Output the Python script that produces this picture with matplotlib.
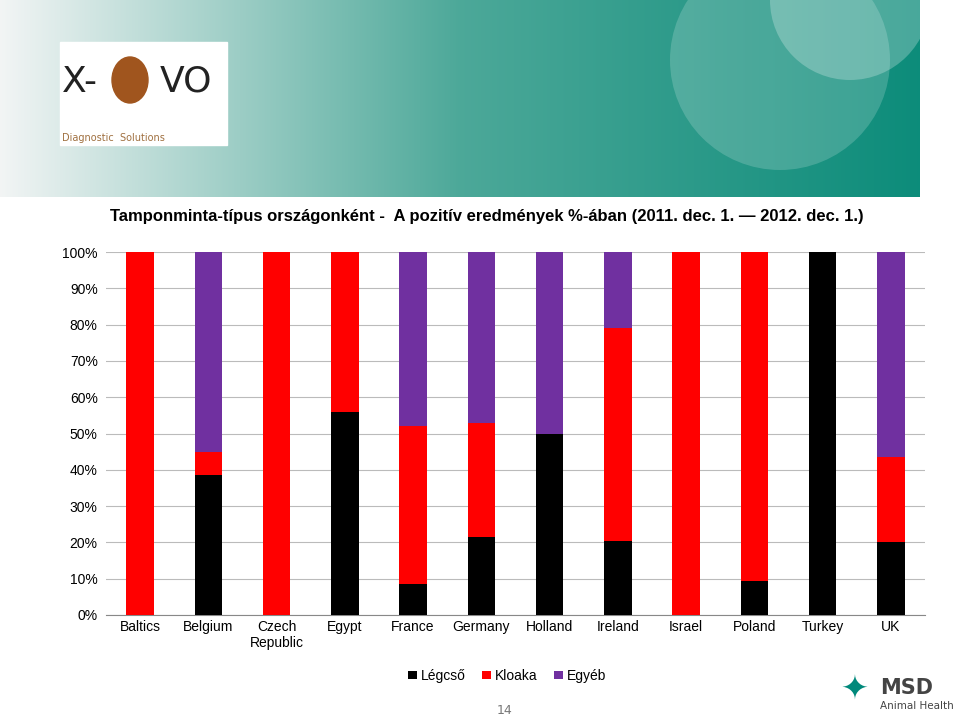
import matplotlib
matplotlib.use("Agg")
import matplotlib.pyplot as plt
import numpy as np
from matplotlib.patches import Circle, Rectangle

categories = ["Baltics", "Belgium", "Czech\nRepublic", "Egypt", "France", "Germany",
              "Holland", "Ireland", "Israel", "Poland", "Turkey", "UK"]
legcso = [0, 38.5, 0, 56, 8.5, 21.5, 50, 20.5, 0, 9.5, 100, 20]
kloaka = [100, 6.5, 100, 44, 43.5, 31.5, 0, 58.5, 100, 90.5, 0, 23.5]
egyeb = [0, 55, 0, 0, 48, 47, 50, 21, 0, 0, 0, 56.5]
series_names = ["Légcső", "Kloaka", "Egyéb"]
colors = ["#000000", "#ff0000", "#7030a0"]

W, H = 960, 717
fig = plt.figure(figsize=(W/100, H/100), dpi=100)

# banner
bx = fig.add_axes([0, 1-197/H, 920/W, 197/H])
grad = np.linspace(0, 1, 400)
c0 = np.array([0.95, 0.96, 0.96]); c1 = np.array([0.30, 0.66, 0.60]); c2 = np.array([0.05, 0.55, 0.48])
cols = np.array([c0 + (c1-c0)*min(g/0.5, 1) if g < 0.5 else c1 + (c2-c1)*(g-0.5)/0.5 for g in grad])
bx.imshow(cols[np.newaxis, :, :], aspect="auto", extent=[0, 920, 197, 0])
bx.set_xlim(0, 920); bx.set_ylim(197, 0)
for (cx, cy, r, a) in [(780, 60, 110, 0.18), (850, 0, 80, 0.25)]:
    bx.add_patch(Circle((cx, cy), r, color="white", alpha=a, lw=0))
bx.add_patch(Rectangle((60, 42), 167, 103, color="white"))
bx.text(62, 82, "X-", fontsize=26, color="#222", va="center")
bx.add_patch(matplotlib.patches.Ellipse((130, 80), 36, 46, color="#a0551e"))
bx.text(160, 82, "VO", fontsize=26, color="#222", va="center")
bx.text(62, 138, "Diagnostic  Solutions", fontsize=7, color="#a07040", va="center")
bx.axis("off")

fig.text(110/W, 1-217/H, "Tamponminta-típus országonként -  A pozitív eredmények %-ában (2011. dec. 1. \u2014 2012. dec. 1.)",
         fontsize=12, fontweight="bold", va="center", family="Liberation Sans")

ax = fig.add_axes([106/W, 1-615/H, 819/W, 363/H])
x = np.arange(len(categories))
bottom = np.zeros(len(categories))
for vals, name, c in zip([legcso, kloaka, egyeb], series_names, colors):
    ax.bar(x, vals, 0.4, bottom=bottom, color=c, label=name, zorder=3)
    bottom += np.array(vals)
ax.set_xlim(-0.5, len(categories)-0.5)
ax.set_ylim(0, 100)
ax.set_yticks(range(0, 101, 10))
ax.set_yticklabels([f"{v}%" for v in range(0, 101, 10)], fontsize=10, family="Liberation Sans")
ax.set_xticks(x)
ax.set_xticklabels(categories, fontsize=10, family="Liberation Sans")
ax.tick_params(length=0)
ax.tick_params(axis="y", pad=6)
ax.grid(axis="y", color="#bbbbbb", lw=0.8, zorder=0)
for s in ["top", "right", "left"]:
    ax.spines[s].set_visible(False)
ax.spines["bottom"].set_color("#888")
ax.legend(loc="center", bbox_to_anchor=(0.49, -0.168), ncol=3, frameon=False,
          prop={"family": "Liberation Sans", "size": 10}, handlelength=0.6, handleheight=0.6,
          columnspacing=1.2, handletextpad=0.3)

fig.text(505/W, 1-711/H, "14", fontsize=9, color="#777", ha="center", va="center")
fig.text(880/W, 1-688/H, "MSD", fontsize=15, fontweight="bold", color="#444", va="center")
fig.text(880/W, 1-706/H, "Animal Health", fontsize=7.5, color="#444", va="center")
fig.text(855/W, 1-690/H, "\u2726", fontsize=24, color="#00897b", ha="center", va="center", family="DejaVu Sans")

fig.savefig("out.png", dpi=100)
